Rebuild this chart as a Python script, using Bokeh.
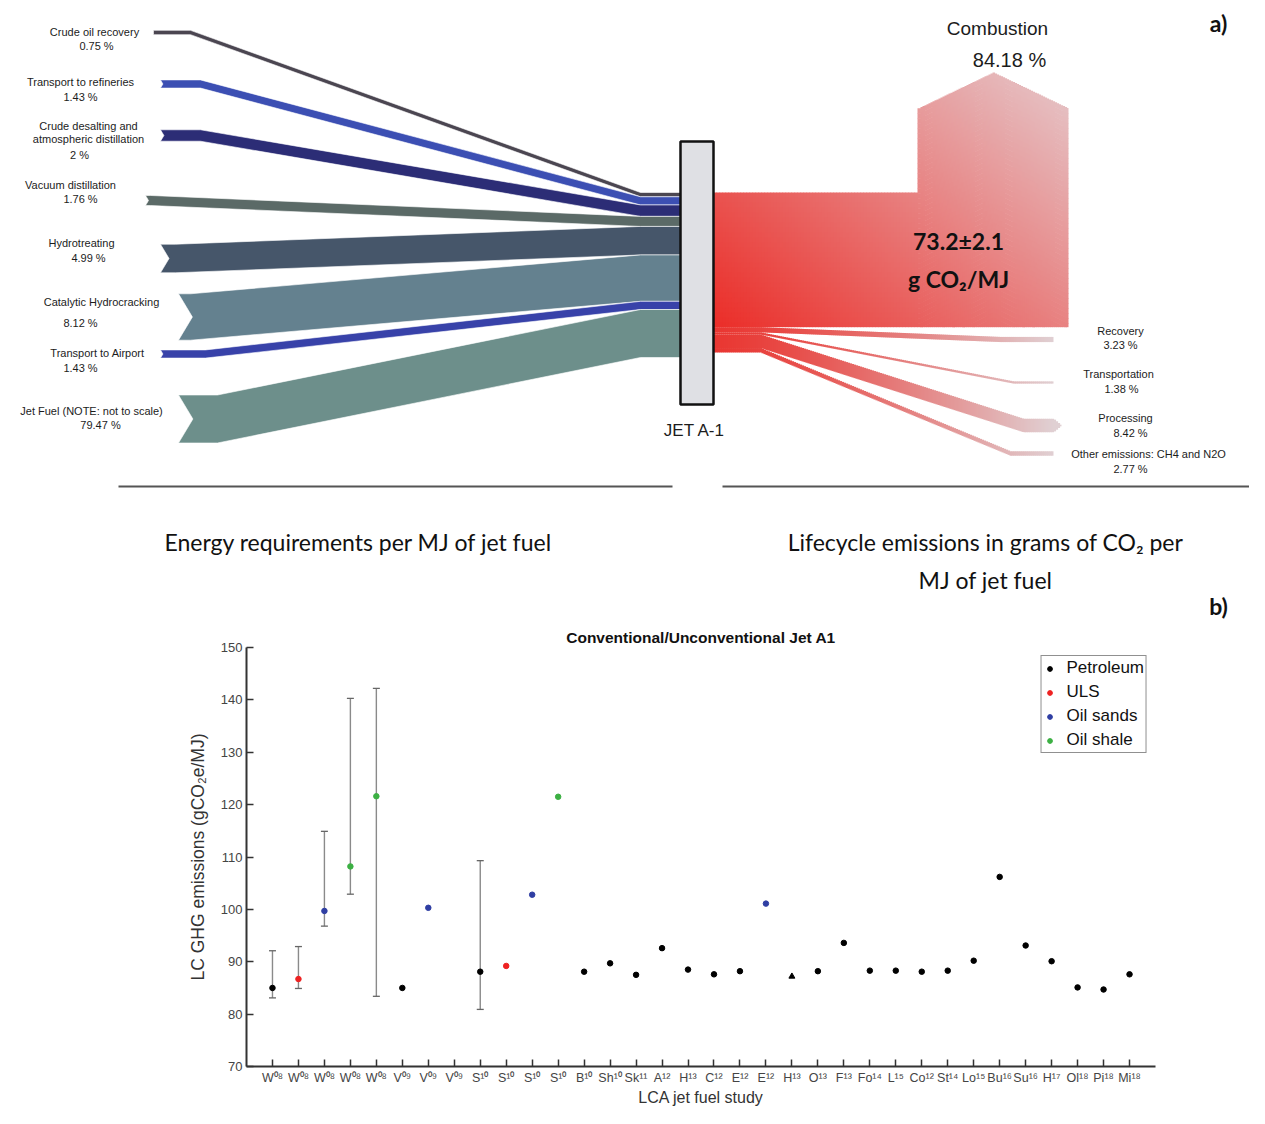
import numpy as np
from bokeh.plotting import figure
from bokeh.layouts import column
from bokeh.models import (Range1d, ColumnDataSource, FixedTicker, Whisker, TeeHead,
                          Legend, LegendItem, Title)
from bokeh.core.properties import value
from bokeh.embed import file_html
from bokeh.resources import INLINE

# ============================ DATA : panel a) ============================
energy_steps = ["Crude oil recovery", "Transport to refineries",
                "Crude desalting and\natmospheric distillation", "Vacuum distillation",
                "Hydrotreating", "Catalytic Hydrocracking", "Transport to Airport",
                "Jet Fuel (NOTE: not to scale)"]
energy_pct = [0.75, 1.43, 2, 1.76, 4.99, 8.12, 1.43, 79.47]
JET_FUEL_DRAWN_PCT = 8.4          # jet fuel band is "not to scale"

emission_steps = ["Combustion", "Recovery", "Transportation", "Processing",
                  "Other emissions: CH4 and N2O"]
emission_pct = [84.18, 3.23, 1.38, 8.42, 2.77]
total_emissions = "73.2±2.1"
total_units = "g CO₂/MJ"

# ============================ DATA : panel b) ============================
study_authors = ["W", "W", "W", "W", "W", "V", "V", "V", "S", "S", "S", "S", "B", "Sh", "Sk",
                 "A", "H", "C", "E", "E", "H", "O", "F", "Fo", "L", "Co", "St", "Lo", "Bu",
                 "Su", "H", "Ol", "Pi", "Mi"]
study_years = ["08", "08", "08", "08", "08", "09", "09", "09", "10", "10", "10", "10", "10", "10",
               "11", "12", "13", "12", "12", "12", "13", "13", "13", "14", "15", "12", "14", "15",
               "16", "16", "17", "18", "18", "18"]
ghg_value = [85.0, 86.7, 99.7, 108.2, 121.6, 85.0, 100.3, None, 88.1, 89.2, 102.8, 121.5,
             88.1, 89.7, 87.5, 92.6, 88.5, 87.6, 88.2, 101.1, 87.2, 88.2, 93.6, 88.3, 88.3,
             88.1, 88.3, 90.2, 106.2, 93.1, 90.1, 85.1, 84.7, 87.6]
ghg_low = [83.1, 84.9, 96.8, 102.9, 83.4, None, None, None, 80.9, None, None, None,
           None, None, None, None, None, None, None, None, None, None, None, None, None,
           None, None, None, None, None, None, None, None, None]
ghg_high = [92.1, 92.9, 114.9, 140.3, 142.2, None, None, None, 109.3, None, None, None,
            None, None, None, None, None, None, None, None, None, None, None, None, None,
            None, None, None, None, None, None, None, None, None]
fuel_type = ["Petroleum", "ULS", "Oil sands", "Oil shale", "Oil shale", "Petroleum", "Oil sands",
             None, "Petroleum", "ULS", "Oil sands", "Oil shale", "Petroleum", "Petroleum",
             "Petroleum", "Petroleum", "Petroleum", "Petroleum", "Petroleum", "Oil sands",
             "Petroleum", "Petroleum", "Petroleum", "Petroleum", "Petroleum", "Petroleum",
             "Petroleum", "Petroleum", "Petroleum", "Petroleum", "Petroleum", "Petroleum",
             "Petroleum", "Petroleum"]
triangle_studies = [21]
fuel_types = ["Petroleum", "ULS", "Oil sands", "Oil shale"]
y_ticks = [70, 80, 90, 100, 110, 120, 130, 140, 150]

# ============================ STYLE ============================
FONT = value("Liberation Sans")
CAL = value("Lato")
TXT = "#1c1c1c"
fuel_colors = {"Petroleum": "#000000", "ULS": "#ee2222", "Oil sands": "#2f3ea3",
               "Oil shale": "#3cb043"}
band_colors = ["#4b4651", "#3c4fb3", "#2c2d76", "#5b6a67", "#46566a", "#64818f",
               "#3842a9", "#6d8f8b"]


def hexcols(t, c0, c1):
    t = np.clip(np.asarray(t, dtype=float), 0, 1)[:, None]
    rgb = np.asarray(c0) + (np.asarray(c1) - np.asarray(c0)) * t
    return ["#%02x%02x%02x" % tuple(int(round(c)) for c in row) for row in rgb]


# ============================ PANEL a) ============================
H1 = 624
p1 = figure(width=1249, height=H1, x_range=Range1d(0, 1249), y_range=Range1d(H1, 0),
            x_axis_type=None, y_axis_type=None, output_backend="svg",
            toolbar_location=None, min_border=0, outline_line_color=None)
p1.frame_align = False

# --- layout of the left (energy) bands
TOP_AT_BOX = 192
CONV_X, BOX_L, BOX_R = 640, 680, 713
LEFT_PX = 165.0
tail_x = [153, 160, 160, 145, 160, 178, 160, 178]
flat_x = [190, 200, 200, 150, 175, 190, 205, 217]
tail_yc = [32, 83.5, 135, 200, 258, 316.5, 353.5, 418.5]
has_notch = [False, True, True, True, True, True, True, True]

drawn = energy_pct[:-1] + [JET_FUEL_DRAWN_PCT]
scale_l = LEFT_PX / sum(drawn)
xs_list, ys_list = [], []
ycur = TOP_AT_BOX
for i, d in enumerate(drawn):
    w = d * scale_l
    yr = ycur + w / 2
    ycur += w
    yl = tail_yc[i]
    n = max(0.3 * w, 2) if has_notch[i] else 0
    xs_list.append([tail_x[i], flat_x[i], CONV_X, BOX_L, BOX_L, CONV_X, flat_x[i], tail_x[i],
                    tail_x[i] + n])
    ys_list.append([yl - w / 2, yl - w / 2, yr - w / 2, yr - w / 2, yr + w / 2, yr + w / 2,
                    yl + w / 2, yl + w / 2, yl])
p1.patches(xs_list, ys_list, fill_color=band_colors, line_color="white", line_width=0.6)

# --- right (emission) flows, drawn as gradient cells
R_PX = 1.6
TURN_X, END_X, SHOULDER_Y, TIP_Y = 918, 1068, 108, 72
RED = (235, 45, 40)
PALE = (229, 200, 203)
PALE_THIN = (224, 208, 211)
ql, qr, qt, qb, qc = [], [], [], [], []

wc = emission_pct[0] * R_PX
comb_bot = TOP_AT_BOX + wc
x = float(BOX_R)
mid = (TURN_X + END_X) / 2
while x < END_X - 1e-6:
    dx = 3 if x < TURN_X else 2
    x1 = min(x + dx, END_X)
    xm = (x + x1) / 2
    if xm < TURN_X:
        top = TOP_AT_BOX
    else:
        top = SHOULDER_Y - (SHOULDER_Y - TIP_Y) * (1 - abs(xm - mid) / (mid - TURN_X))
    y = top
    while y < comb_bot - 1e-6:
        y1 = min(y + 5, comb_bot)
        u = (xm - BOX_R) / (END_X - BOX_R)
        v = (comb_bot - (y + y1) / 2) / (comb_bot - TIP_Y)
        ql.append(x)
        qr.append(x1 + (0.6 if x1 < END_X else 0))
        qt.append(y)
        qb.append(min(y1 + 0.6, comb_bot))
        qc.append(0.55 * u + 0.45 * v)
        y = y1
    x = x1
comb_cols = hexcols(qc, RED, PALE)

thin_end_yc = [339, 382, 425, 453]
thin_flat_x = [1000, 1013, 1023, 1010]
has_arrow = [False, False, True, False]
FAN_X, END_R, TIP_R = 760, 1053, 1061
tl, tr, tt, tb, tc = [], [], [], [], []
ycur = comb_bot
for k, pct in enumerate(emission_pct[1:]):
    w = pct * R_PX
    c0 = ycur + w / 2
    ycur += w
    x = float(BOX_R)
    stop = TIP_R if has_arrow[k] else END_R
    while x < stop - 1e-6:
        x1 = min(x + 2, stop)
        xm = (x + x1) / 2
        c = np.interp(xm, [BOX_R, FAN_X, thin_flat_x[k], END_R],
                      [c0, c0, thin_end_yc[k], thin_end_yc[k]])
        h = w / 2
        if xm > END_R:
            h = w / 2 * (TIP_R - xm) / (TIP_R - END_R)
        tl.append(x)
        tr.append(x1 + (0.6 if x1 < stop else 0))
        tt.append(c - h)
        tb.append(c + h)
        tc.append(((xm - BOX_R) / (END_R - BOX_R)) ** 1.3)
        x = x1
thin_cols = hexcols(tc, (233, 55, 50), PALE_THIN)

p1.quad(left=tl, right=tr, top=tt, bottom=tb, fill_color=thin_cols, line_color=None)
p1.quad(left=ql, right=qr, top=qt, bottom=qb, fill_color=comb_cols, line_color=None)

# --- the JET A-1 node
p1.quad(left=[BOX_L], right=[BOX_R], top=[141], bottom=[404], fill_color="#dfe0e4",
        line_color="#111111", line_width=2.5)
p1.text(x=[694], y=[430], text=["JET A-1"], text_font=FONT, text_font_size="17px",
        text_color=TXT, text_align="center", text_baseline="middle")

# --- left labels
title_x = [94, 80, 88, 70, 81, 101, 97, 91]
title_y = [31, 81, 125, 184, 242, 301, 352, 410]
pct_x = [96, 80, 79, 80, 88, 80, 80, 100]
pct_y = [45, 96, 154, 198, 257, 322, 367, 424]
lx, ly, lt = [], [], []
for i, name in enumerate(energy_steps):
    for j, line in enumerate(name.split("\n")):
        lx.append(title_x[i]); ly.append(title_y[i] + 13 * j); lt.append(line)
    lx.append(pct_x[i]); ly.append(pct_y[i]); lt.append(f"{energy_pct[i]:g} %")
p1.text(x=lx, y=ly, text=lt, text_font=FONT, text_font_size="11px", text_color=TXT,
        text_align="center", text_baseline="middle")

# --- right labels
rt_x = [1120, 1118, 1125, 1148]
rt_y = [330, 373, 417, 453]
rp_x = [1120, 1121, 1130, 1130]
rp_y = [344, 388, 432, 468]
rx, ry, rtx = [], [], []
for k, name in enumerate(emission_steps[1:]):
    rx += [rt_x[k], rp_x[k]]
    ry += [rt_y[k], rp_y[k]]
    rtx += [name, f"{emission_pct[k + 1]:g} %"]
p1.text(x=rx, y=ry, text=rtx, text_font=FONT, text_font_size="11px", text_color=TXT,
        text_align="center", text_baseline="middle")
p1.text(x=[997], y=[28], text=[emission_steps[0]], text_font=FONT, text_font_size="19px",
        text_color=TXT, text_align="center", text_baseline="middle")
p1.text(x=[1009], y=[59], text=[f"{emission_pct[0]:g} %"], text_font=FONT,
        text_font_size="20px", text_color=TXT, text_align="center", text_baseline="middle")
p1.text(x=[958, 958], y=[240, 278], text=[total_emissions, total_units], text_font=CAL,
        text_font_size="23px", text_font_style="bold", text_color="#111111",
        text_align="center", text_baseline="middle")

# --- separators and captions
p1.segment(x0=[118, 722], y0=[486, 486], x1=[672, 1265], y1=[486, 486],
           line_color="#555555", line_width=2)
p1.text(x=[358, 985, 985], y=[541, 541, 579],
        text=["Energy requirements per MJ of jet fuel",
              "Lifecycle emissions in grams of CO₂ per", "MJ of jet fuel"],
        text_font=CAL, text_font_size="23px", text_color="#111111",
        text_align="center", text_baseline="middle")
p1.text(x=[1218, 1218], y=[22, 605], text=["a)", "b)"], text_font=CAL,
        text_font_size="23px", text_font_style="bold", text_color="#111111",
        text_align="center", text_baseline="middle")

# ============================ PANEL b) ============================
SUP = str.maketrans("0123456789", "⁰¹²³⁴⁵⁶⁷⁸⁹")
xpos = list(range(1, len(study_authors) + 1))
xlabels = [a + y.translate(SUP) for a, y in zip(study_authors, study_years)]

p2 = figure(width=1249, height=1108 - H1, x_range=Range1d(0, len(xpos) + 1),
            y_range=Range1d(y_ticks[0], y_ticks[-1]), output_backend="svg",
            toolbar_location=None, min_border_left=246, min_border_right=94,
            min_border_top=23, min_border_bottom=38)
p2.frame_align = False
p2.outline_line_color = None
p2.grid.visible = False

p2.add_layout(Title(text="Conventional/Unconventional Jet A1", align="center",
                    vertical_align="top", text_font="Liberation Sans",
                    text_font_size="15.5px", text_font_style="bold", text_color="#111111",
                    standoff=0), "above")

p2.xaxis.ticker = FixedTicker(ticks=xpos)
p2.xaxis.major_label_overrides = {i: lab for i, lab in zip(xpos, xlabels)}
p2.yaxis.ticker = FixedTicker(ticks=y_ticks)
for ax in (p2.xaxis[0], p2.yaxis[0]):
    ax.axis_line_width = 2
    ax.axis_line_color = "#333333"
    ax.major_tick_in = 7
    ax.major_tick_out = 0
    ax.major_tick_line_width = 1.5
    ax.major_tick_line_color = "#333333"
    ax.minor_tick_line_color = None
    ax.major_label_text_font = "Liberation Sans"
    ax.major_label_text_font_size = "13px"
    ax.major_label_text_color = "#444444"
    ax.major_label_standoff = 4
    ax.axis_label_text_font = "Liberation Sans"
    ax.axis_label_text_font_size = "17.5px"
    ax.axis_label_text_font_style = "normal"
    ax.axis_label_text_color = "#333333"
p2.xaxis.major_label_text_font_size = "12.5px"
p2.xaxis.axis_label = "LCA jet fuel study"
p2.xaxis.axis_label_standoff = 1
p2.xaxis.axis_label_text_font_size = "16px"
p2.yaxis.axis_label = "LC GHG emissions (gCO₂e/MJ)"
p2.yaxis.axis_label_standoff = 10

# error bars
ex = [x for x, lo in zip(xpos, ghg_low) if lo is not None]
elo = [lo for lo in ghg_low if lo is not None]
ehi = [hi for hi in ghg_high if hi is not None]
err_src = ColumnDataSource(dict(x=ex, lo=elo, hi=ehi))
p2.add_layout(Whisker(source=err_src, base="x", lower="lo", upper="hi", dimension="height",
                      line_color="#8a8a8a", line_width=1.4,
                      upper_head=TeeHead(size=7, line_color="#666666", line_width=1.3),
                      lower_head=TeeHead(size=7, line_color="#666666", line_width=1.3)))

# points
legend_renderers = {}
for ft in fuel_types:
    xs = [x for x, f, v in zip(xpos, fuel_type, ghg_value)
          if f == ft and v is not None and x not in triangle_studies]
    ys = [v for x, f, v in zip(xpos, fuel_type, ghg_value)
          if f == ft and v is not None and x not in triangle_studies]
    legend_renderers[ft] = p2.scatter(xs, ys, marker="circle", size=5.5,
                                      fill_color=fuel_colors[ft], line_color=fuel_colors[ft])
    xt = [x for x, f, v in zip(xpos, fuel_type, ghg_value)
          if f == ft and v is not None and x in triangle_studies]
    yt = [v for x, f, v in zip(xpos, fuel_type, ghg_value)
          if f == ft and v is not None and x in triangle_studies]
    if xt:
        p2.scatter(xt, yt, marker="triangle", size=6, fill_color=fuel_colors[ft],
                   line_color=fuel_colors[ft])

items = [LegendItem(label=ft, renderers=[legend_renderers[ft]]) for ft in fuel_types]
legend = Legend(items=items, location="top_right", margin=8, padding=2, spacing=4,
                glyph_width=12, glyph_height=19, label_height=19, label_standoff=11,
                label_text_font="Liberation Sans", label_text_font_size="17px",
                label_text_color="#111111", border_line_color="#222222",
                border_line_width=1.5, background_fill_alpha=1)
p2.add_layout(legend)

layout = column(p1, p2, spacing=0)
open("out.html", "w").write(file_html(layout, INLINE))
